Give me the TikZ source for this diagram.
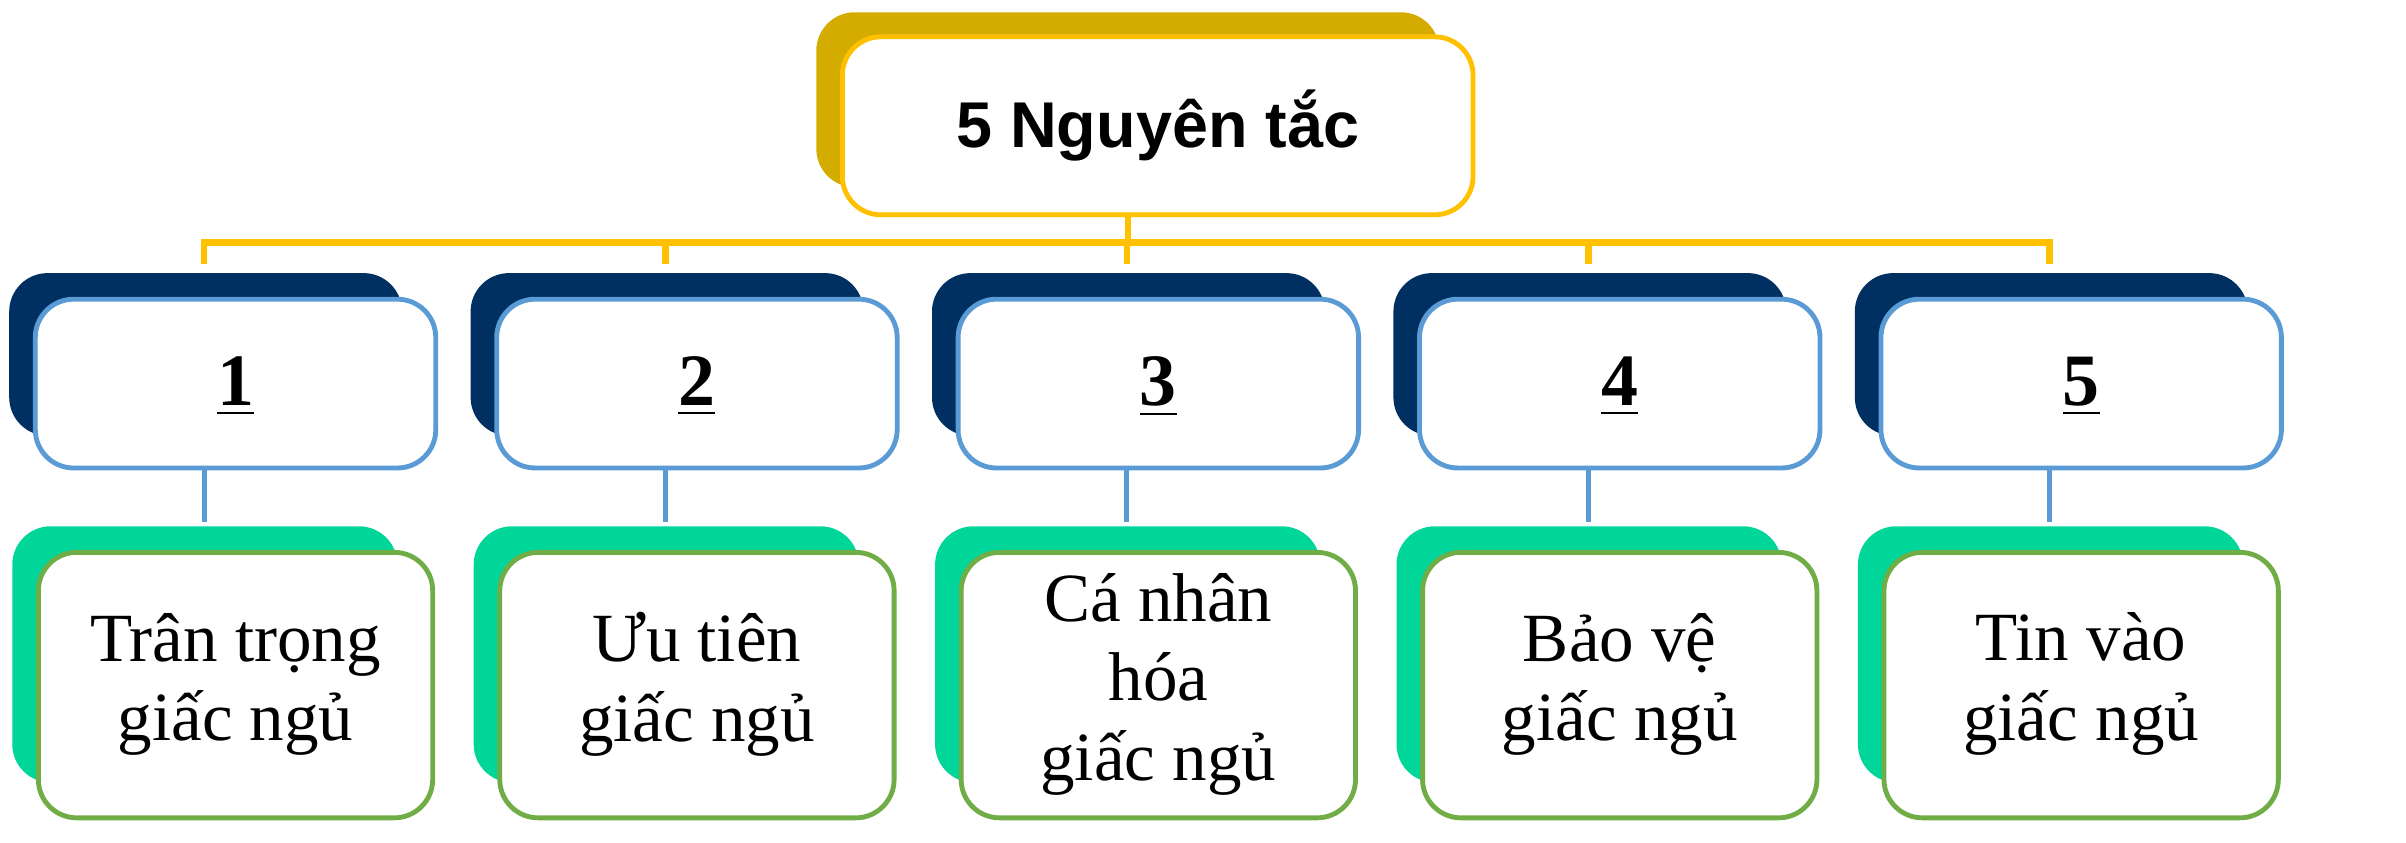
\documentclass[tikz,border=0pt]{standalone}
\usepackage{fontspec}
\setmainfont{Liberation Serif}
\newfontfamily\topfont{Liberation Sans}
\definecolor{gold}{HTML}{D4AC00}
\definecolor{goldline}{HTML}{FFC000}
\definecolor{navy}{HTML}{003062}
\definecolor{lblue}{HTML}{5B9BD5}
\definecolor{mint}{HTML}{00D69A}
\definecolor{lgreen}{HTML}{70AD47}
\begin{document}
\begin{tikzpicture}[x=0.1mm,y=-0.1mm,
  backbox/.style={rounded corners=2.5mm},
  frontbox/.style={fill=white,line width=0.9pt,rounded corners=2.5mm},
  numtxt/.style={font=\fontsize{13.7}{16}\selectfont\bfseries},
  leaftxt/.style={align=center,font=\fontsize{12.8}{14.8}\selectfont}]
\useasboundingbox (0,0) rectangle (1568,549);
% top
\fill[gold,backbox] (532,8) rectangle (938,122);
\draw[goldline,frontbox] (549,24) rectangle (960,140);
\node[font=\topfont\fontsize{12}{14}\selectfont\bfseries] (top) at (754.5,82) {5 Nguyên tắc};
\coordinate (tb) at (735,140);
\coordinate (hm) at (735,158);
\draw[goldline,line width=1.2pt] (tb) -- (hm);
\draw[goldline,line width=1.2pt] (133,172) -- (133,158) -- (1336,158) -- (1336,172);
\foreach \i/\t in {0/{Trân trọng\\giấc ngủ},1/{Ưu tiên\\giấc ngủ},2/{Cá nhân\\hóa\\giấc ngủ},3/{Bảo vệ\\giấc ngủ},4/{Tin vào\\giấc ngủ}}{
  \pgfmathsetmacro\dx{\i*300.7}
  \begin{scope}[xshift=\dx*0.1mm]
  \draw[goldline,line width=1.2pt] (133,158) -- (133,172);
  \fill[navy,backbox] (6,178) rectangle (262,284);
  \draw[lblue,frontbox] (23,195) rectangle (284,305);
  \node[numtxt] (n\i) at (153.5,252) {\underline{\the\numexpr\i+1\relax}};
  \coordinate (a\i) at (133,305);
  \coordinate (b\i) at (133,340);
  \draw[lblue,line width=0.9pt] (a\i) -- (b\i);
  \fill[mint,backbox] (8,343) rectangle (259,510);
  \draw[lgreen,frontbox] (25,360) rectangle (282,533);
  \node[leaftxt] (l\i) at (153.5,446) {\t};
  \end{scope}
}
\end{tikzpicture}
\end{document}
